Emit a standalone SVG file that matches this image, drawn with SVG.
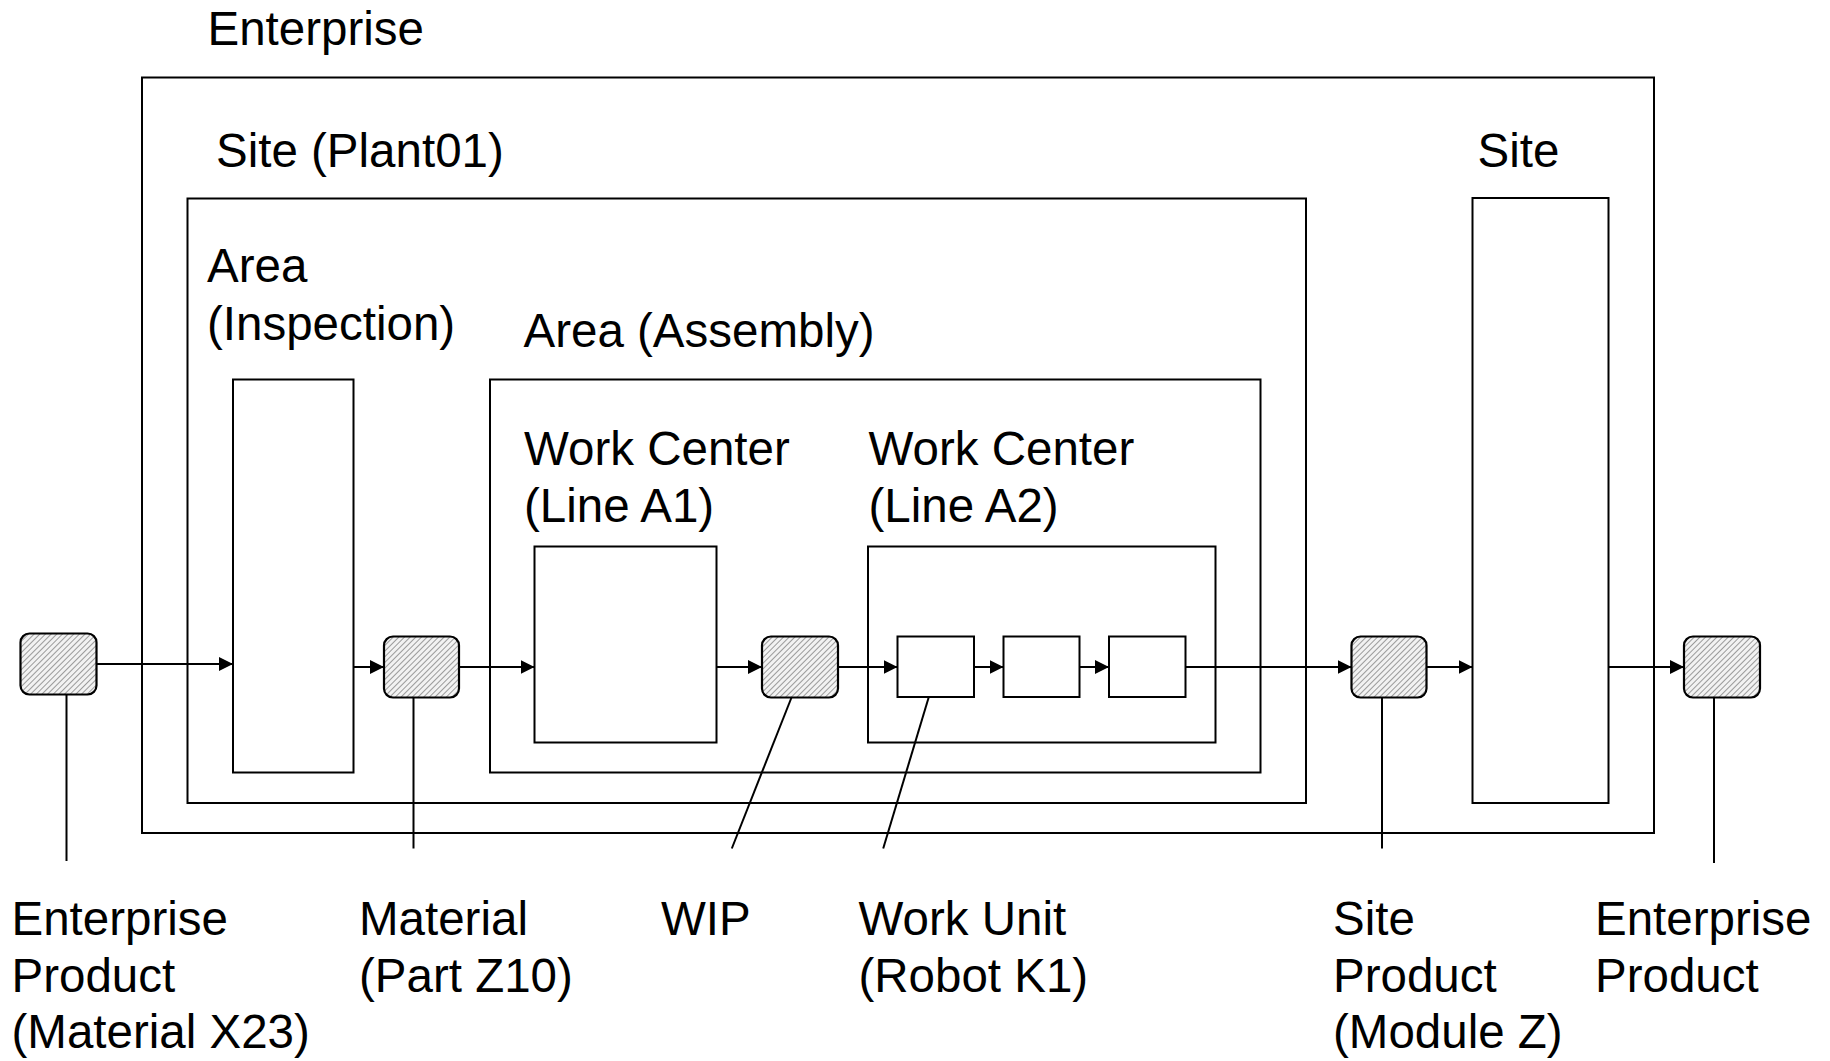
<svg xmlns="http://www.w3.org/2000/svg" width="1830" height="1061" viewBox="0 0 1830 1061">
<style>
.box{fill:none;stroke:#000;stroke-width:2}
.hn{fill:url(#hatch);stroke:#000;stroke-width:2.2}
.ln{fill:none;stroke:#000;stroke-width:2}
.arr{fill:none;stroke:#000;stroke-width:2;marker-end:url(#ah)}
text{font-family:"Liberation Sans",Arial,sans-serif;font-size:47.5px;fill:#000}
</style>
<defs>
<pattern id="hatch" patternUnits="userSpaceOnUse" width="4" height="4" patternTransform="rotate(45)">
<rect width="4" height="4" fill="#f2f2f2"/>
<line x1="0" y1="0" x2="0" y2="4" stroke="#9a9a9a" stroke-width="2"/>
</pattern>
<marker id="ah" markerUnits="userSpaceOnUse" markerWidth="15" markerHeight="15" refX="14" refY="7" orient="auto">
<path d="M0,0 L14,7 L0,14 Z" fill="#000"/>
</marker>
</defs>
<rect width="1830" height="1061" fill="#fff"/>

<g id="enterprise">
<rect class="box" x="142" y="77.5" width="1512" height="755.5"/>
<text x="207.5" y="44.5">Enterprise</text>
</g>
<g id="site-plant01">
<rect class="box" x="187.5" y="198.5" width="1118.5" height="604.5"/>
<text x="216" y="166.5">Site (Plant01)</text>
</g>
<g id="site-right">
<rect class="box" x="1472.5" y="198" width="136" height="605"/>
<text x="1477.5" y="166.5">Site</text>
</g>
<g id="area-inspection">
<rect class="box" x="233" y="379.5" width="120.5" height="393"/>
<text x="207" y="281.5">Area</text>
<text x="207" y="339.5">(Inspection)</text>
</g>
<g id="area-assembly">
<rect class="box" x="490" y="379.5" width="770.5" height="393"/>
<text x="523.5" y="346.5">Area (Assembly)</text>
</g>
<g id="wc-a1">
<rect class="box" x="534.5" y="546.5" width="182" height="196"/>
<text x="524" y="464.5">Work Center</text>
<text x="524" y="521.5">(Line A1)</text>
</g>
<g id="wc-a2">
<rect class="box" x="868" y="546.5" width="347.5" height="196"/>
<text x="868.5" y="464.5">Work Center</text>
<text x="868.5" y="521.5">(Line A2)</text>
</g>
<g id="unit1"><rect class="box" x="897.5" y="636.5" width="76.5" height="60.5"/></g>
<g id="unit2"><rect class="box" x="1003.5" y="636.5" width="76" height="60.5"/></g>
<g id="unit3"><rect class="box" x="1109" y="636.5" width="76.5" height="60.5"/></g>

<g id="ep-left"><rect class="hn" x="20.5" y="633.5" width="76" height="61" rx="9"/></g>
<g id="material"><rect class="hn" x="384" y="636.5" width="75" height="61" rx="9"/></g>
<g id="wip"><rect class="hn" x="762" y="636.5" width="76" height="61" rx="9"/></g>
<g id="site-product"><rect class="hn" x="1351.5" y="636.5" width="75" height="61" rx="9"/></g>
<g id="ep-right"><rect class="hn" x="1684" y="636.5" width="76" height="61" rx="9"/></g>

<g id="connectors">
<line class="arr" x1="96.5" y1="664" x2="233" y2="664"/>
<line class="arr" x1="353.5" y1="667" x2="384" y2="667"/>
<line class="arr" x1="459" y1="667" x2="534.5" y2="667"/>
<line class="arr" x1="716.5" y1="667" x2="762" y2="667"/>
<line class="arr" x1="838" y1="667" x2="897.5" y2="667"/>
<line class="arr" x1="974" y1="667" x2="1003.5" y2="667"/>
<line class="arr" x1="1079.5" y1="667" x2="1109" y2="667"/>
<line class="arr" x1="1185.5" y1="667" x2="1351.5" y2="667"/>
<line class="arr" x1="1426.5" y1="667" x2="1472.5" y2="667"/>
<line class="arr" x1="1608.5" y1="667" x2="1684" y2="667"/>
<line class="ln" x1="66.5" y1="694.5" x2="66.5" y2="861"/>
<line class="ln" x1="413.5" y1="697.5" x2="413.5" y2="848.5"/>
<line class="ln" x1="791.5" y1="697.5" x2="731.8" y2="848.5"/>
<line class="ln" x1="928.8" y1="697" x2="883.2" y2="848.5"/>
<line class="ln" x1="1382" y1="697.5" x2="1382" y2="848.5"/>
<line class="ln" x1="1714" y1="697.5" x2="1714" y2="863"/>
</g>

<g id="labels">
<text x="11.5" y="935">Enterprise</text>
<text x="11.5" y="991.5">Product</text>
<text x="11.5" y="1048">(Material X23)</text>
<text x="359" y="935">Material</text>
<text x="359" y="991.5">(Part Z10)</text>
<text x="661" y="935">WIP</text>
<text x="858.5" y="935">Work Unit</text>
<text x="858.5" y="991.5">(Robot K1)</text>
<text x="1333" y="935">Site</text>
<text x="1333" y="991.5">Product</text>
<text x="1333" y="1048">(Module Z)</text>
<text x="1595" y="935">Enterprise</text>
<text x="1595" y="991.5">Product</text>
</g>
</svg>
